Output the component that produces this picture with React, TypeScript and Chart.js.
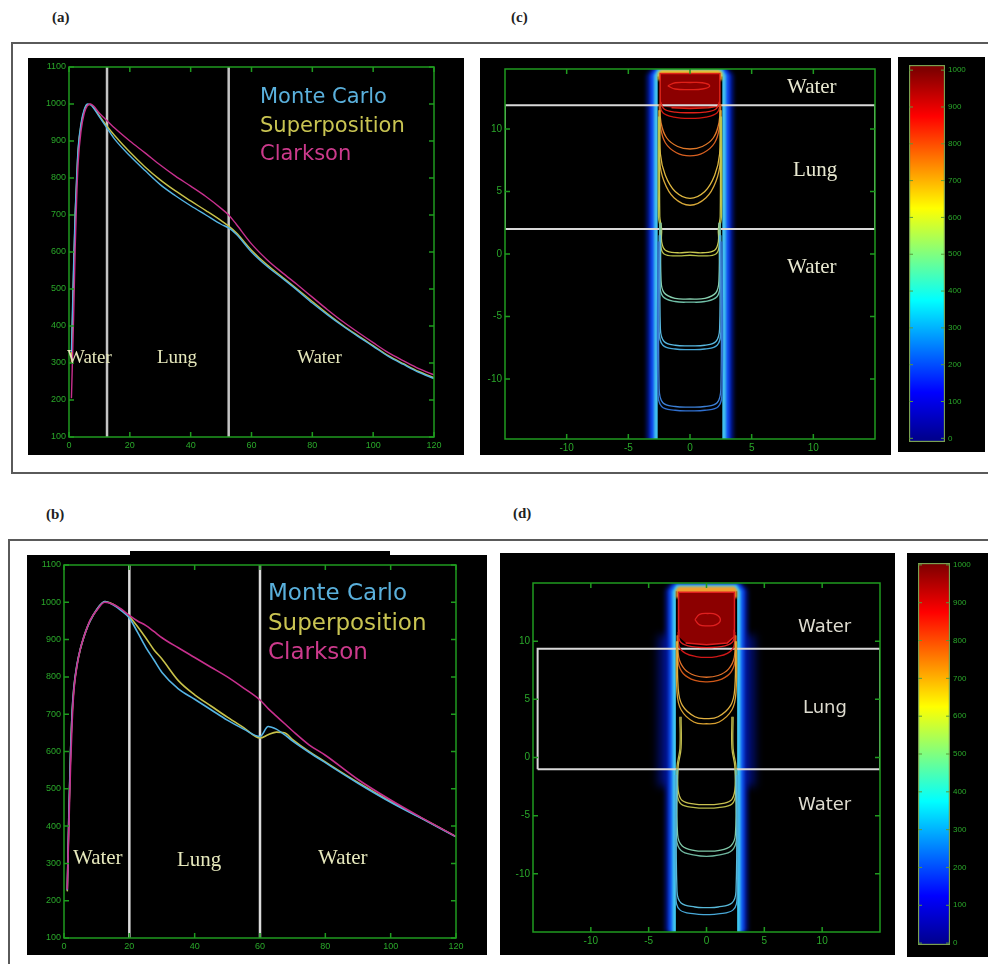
import React, { useEffect, useRef } from 'react';
import { Chart, registerables } from 'chart.js';

// ---------- plugins ----------
const blurPlugin = {
  id: 'blurGlow',
  beforeDatasetDraw(chart: any, args: any) {
    const ds: any = chart.data.datasets[args.index];
    if (ds && ds.blur) { chart.ctx.save(); chart.ctx.filter = `blur(${ds.blur}px)`; }
  },
  afterDatasetDraw(chart: any, args: any) {
    const ds: any = chart.data.datasets[args.index];
    if (ds && ds.blur) chart.ctx.restore();
  },
};
const framePlugin = {
  id: 'frameBox',
  afterDatasetsDraw(chart: any, _a: any, opts: any) {
    if (!opts || !opts.color) return;
    const { ctx, chartArea: a } = chart;
    ctx.save();
    ctx.strokeStyle = opts.color;
    ctx.lineWidth = opts.width || 1.5;
    if (!opts.noBox) ctx.strokeRect(a.left, a.top, a.right - a.left, a.bottom - a.top);
    const L = opts.len || 4;
    ctx.beginPath();
    Object.values(chart.scales).forEach((s: any) => {
      if (s.options.display === false) return;
      s.ticks.forEach((t: any) => {
        const p = s.getPixelForValue(t.value);
        if (s.isHorizontal()) {
          ctx.moveTo(p, a.bottom); ctx.lineTo(p, a.bottom - L);
          ctx.moveTo(p, a.top); ctx.lineTo(p, a.top + L);
        } else {
          ctx.moveTo(a.left, p); ctx.lineTo(a.left + L, p);
          ctx.moveTo(a.right, p); ctx.lineTo(a.right - L, p);
        }
      });
    });
    ctx.stroke();
    ctx.restore();
  },
};
Chart.register(blurPlugin as any, framePlugin as any);
Chart.register(...registerables);

// ---------- data: depth-dose (a) ----------
const depthA = [0.8, 1.5, 2, 2.5, 3, 4, 5, 6, 7, 8, 10, 12.5, 15, 20, 25, 30, 35, 40, 45, 50, 52.5, 55, 60, 65, 70, 75, 80, 85, 90, 95, 100, 105, 110, 115, 120];
const monteCarloA = [330, 560, 700, 800, 880, 950, 985, 1000, 998, 990, 965, 935, 905, 860, 820, 782, 752, 725, 700, 675, 665, 648, 600, 562, 530, 497, 462, 430, 400, 372, 345, 318, 296, 275, 258];
const superpositionA = [300, 540, 690, 790, 875, 945, 982, 998, 999, 992, 968, 940, 915, 870, 830, 795, 765, 738, 712, 685, 670, 652, 605, 566, 533, 500, 466, 433, 402, 374, 347, 320, 298, 277, 260];
const clarksonA = [205, 420, 600, 740, 840, 930, 975, 995, 1000, 995, 975, 955, 935, 900, 868, 835, 805, 778, 750, 718, 700, 675, 622, 580, 545, 512, 478, 444, 412, 383, 355, 328, 306, 285, 268];
const boundariesA = [12.5, 52.5];

// ---------- data: depth-dose (b) ----------
const depthB = [1, 1.5, 2, 2.5, 3, 4, 5, 6, 7, 8, 10, 12.5, 15, 17.5, 20, 22.5, 25, 27.5, 30, 35, 40, 45, 50, 55, 60, 62.5, 65, 67.5, 70, 75, 80, 90, 100, 110, 120];
const monteCarloB = [228, 440, 600, 710, 770, 835, 875, 905, 930, 950, 980, 1002, 993, 978, 958, 920, 880, 846, 812, 768, 740, 712, 684, 660, 640, 667, 660, 645, 628, 598, 570, 515, 464, 418, 371];
const superpositionB = [225, 430, 595, 705, 768, 833, 874, 905, 930, 950, 980, 1002, 995, 980, 962, 935, 905, 873, 848, 790, 752, 722, 692, 664, 636, 645, 652, 650, 632, 600, 572, 517, 466, 419, 372];
const clarksonB = [230, 400, 560, 680, 760, 830, 875, 905, 930, 952, 978, 1000, 995, 982, 965, 950, 938, 922, 905, 878, 852, 826, 800, 770, 738, 715, 695, 675, 655, 618, 590, 525, 470, 420, 372];
const boundariesB = [20, 60];

const depthRange = [0, 120];
const depthTicks = [0, 20, 40, 60, 80, 100, 120];
const doseRange = [100, 1100];
const doseTicks = [100, 200, 300, 400, 500, 600, 700, 800, 900, 1000, 1100];

// ---------- data: contour map (c) ----------
const lungC = [2, 11.9];
const glowC1 = [[-3.5, -15], [-3.5, 14.3], [-3.0, 14.95], [3.0, 14.95], [3.5, 14.3], [3.5, -15]];
const glowC2 = [[-3.2, -15], [-3.2, 14.3], [-2.8, 14.88], [2.8, 14.88], [3.2, 14.3], [3.2, -15]];
const glowC3 = [[-2.92, -15], [-2.92, 14.3], [-2.6, 14.82], [2.6, 14.82], [2.92, 14.3], [2.92, -15]];
const coreC = [[-2.62, -15], [-2.62, 14.2], [2.62, 14.2], [2.62, -15]];
const topC = [[-2.62, 13.9], [-2.62, 14.5], [-2.35, 14.75], [2.35, 14.75], [2.62, 14.5], [2.62, 13.9]];
const redC = [[-2.42, 11.85], [-2.42, 14.45], [2.42, 14.45], [2.42, 11.85], [1.5, 11.7], [0, 11.65], [-1.5, 11.7]];
const cRedLoop = [[-1.8, 13.45], [-1.2, 13.7], [0, 13.72], [1.0, 13.7], [1.6, 13.45], [1.0, 13.2], [0, 13.15], [-1.2, 13.2], [-1.8, 13.45]];
const cRed1 = [[-2.4, 12.2], [-2.1, 11.6], [-1.2, 11.35], [0, 11.3], [1.2, 11.35], [2.1, 11.6], [2.4, 12.2]];
const cRed2 = [[-2.45, 12.0], [-2.2, 11.3], [-1.3, 10.95], [0, 10.85], [1.3, 10.95], [2.2, 11.3], [2.45, 12.0]];
const cOrange1 = [[-2.45, 12.0], [-2.35, 10.5], [-1.9, 9.3], [-1.0, 8.6], [0, 8.4], [1.0, 8.6], [1.9, 9.3], [2.35, 10.5], [2.45, 12.0]];
const cOrange2 = [[-2.5, 12.0], [-2.4, 10.2], [-2.0, 8.9], [-1.1, 8.1], [0, 7.85], [1.1, 8.1], [2.0, 8.9], [2.4, 10.2], [2.5, 12.0]];
const cYellow1 = [[-2.45, 11.5], [-2.4, 8.0], [-2.0, 6.3], [-1.2, 5.0], [0, 4.45], [1.2, 5.0], [2.0, 6.3], [2.4, 8.0], [2.45, 11.5]];
const cYellow2 = [[-2.52, 11.5], [-2.47, 7.5], [-2.1, 5.8], [-1.3, 4.5], [0, 3.9], [1.3, 4.5], [2.1, 5.8], [2.47, 7.5], [2.52, 11.5]];
const cOlive1 = [[-2.45, 11.0], [-2.45, 3.0], [-2.3, 2.0], [-2.3, 1.0], [-2.0, 0.3], [-1.0, 0.1], [0, 0.15], [1.0, 0.1], [2.0, 0.3], [2.3, 1.0], [2.3, 2.0], [2.45, 3.0], [2.45, 11.0]];
const cOlive2 = [[-2.55, 11.0], [-2.55, 3.0], [-2.4, 2.0], [-2.4, 0.8], [-2.1, 0.0], [-1.0, -0.15], [0, -0.1], [1.0, -0.15], [2.1, 0.0], [2.4, 0.8], [2.4, 2.0], [2.55, 3.0], [2.55, 11.0]];
const cGreen1 = [[-2.35, 2.5], [-2.35, -2.0], [-2.1, -3.1], [-1.2, -3.55], [0, -3.6], [1.2, -3.55], [2.1, -3.1], [2.35, -2.0], [2.35, 2.5]];
const cGreen2 = [[-2.45, 2.5], [-2.45, -2.2], [-2.2, -3.4], [-1.2, -3.8], [0, -3.85], [1.2, -3.8], [2.2, -3.4], [2.45, -2.2], [2.45, 2.5]];
const cCyan1 = [[-2.4, 1.5], [-2.4, -6.0], [-2.1, -7.0], [-1.2, -7.3], [0, -7.35], [1.2, -7.3], [2.1, -7.0], [2.4, -6.0], [2.4, 1.5]];
const cCyan2 = [[-2.5, 1.5], [-2.5, -6.2], [-2.2, -7.3], [-1.2, -7.6], [0, -7.65], [1.2, -7.6], [2.2, -7.3], [2.5, -6.2], [2.5, 1.5]];
const cBlue1 = [[-2.5, 1.0], [-2.5, -10.8], [-2.2, -11.9], [-1.2, -12.2], [0, -12.25], [1.2, -12.2], [2.2, -11.9], [2.5, -10.8], [2.5, 1.0]];
const cBlue2 = [[-2.6, 1.0], [-2.6, -11.0], [-2.3, -12.2], [-1.2, -12.5], [0, -12.55], [1.2, -12.5], [2.3, -12.2], [2.6, -11.0], [2.6, 1.0]];

// ---------- data: contour map (d) ----------
const lungD = [-1.0, 9.35];
const lungXD = [-14.6, 15];
const glowD0 = [[-4.2, -2.5], [-4.2, 10.5], [4.2, 10.5], [4.2, -2.5]];
const glowD1 = [[-3.55, -15], [-3.55, 14.4], [-3.05, 15], [3.05, 15], [3.55, 14.4], [3.55, -15]];
const glowD2 = [[-3.25, -15], [-3.25, 14.35], [-2.85, 14.92], [2.85, 14.92], [3.25, 14.35], [3.25, -15]];
const glowD3 = [[-2.95, -15], [-2.95, 14.3], [-2.6, 14.85], [2.6, 14.85], [2.95, 14.3], [2.95, -15]];
const coreD = [[-2.65, -15], [-2.65, 14.3], [2.65, 14.3], [2.65, -15]];
const topD = [[-2.65, 13.7], [-2.65, 14.45], [-2.4, 14.7], [2.4, 14.7], [2.65, 14.45], [2.65, 13.7]];
const redD = [[-2.42, 10.4], [-2.42, 14.2], [2.42, 14.2], [2.42, 10.4], [1.8, 9.85], [0, 9.7], [-1.8, 9.85]];
const dRedLoop = [[-1.0, 11.85], [-0.6, 12.3], [0.1, 12.38], [0.8, 12.3], [1.2, 11.85], [0.8, 11.4], [0.1, 11.32], [-0.6, 11.4], [-1.0, 11.85]];
const dRed1 = [[-2.4, 11.0], [-2.3, 10.0], [-1.6, 9.6], [0, 9.45], [1.6, 9.6], [2.3, 10.0], [2.4, 11.0]];
const dRed2 = [[-2.45, 10.8], [-2.35, 9.5], [-1.8, 8.95], [-0.9, 8.68], [0, 8.6], [0.9, 8.68], [1.8, 8.95], [2.35, 9.5], [2.45, 10.8]];
const dOrange1 = [[-2.5, 10.5], [-2.4, 8.6], [-1.9, 7.6], [-1.0, 7.05], [0, 6.9], [1.0, 7.05], [1.9, 7.6], [2.4, 8.6], [2.5, 10.5]];
const dOrange2 = [[-2.55, 10.5], [-2.45, 8.2], [-2.0, 7.2], [-1.0, 6.62], [0, 6.5], [1.0, 6.62], [2.0, 7.2], [2.45, 8.2], [2.55, 10.5]];
const dYellow1 = [[-2.5, 10.0], [-2.45, 6.0], [-2.1, 4.5], [-1.0, 3.5], [0, 3.35], [1.0, 3.5], [2.1, 4.5], [2.45, 6.0], [2.5, 10.0]];
const dYellow2 = [[-2.6, 10.0], [-2.55, 5.6], [-2.2, 4.1], [-1.1, 3.05], [0, 2.9], [1.1, 3.05], [2.2, 4.1], [2.55, 5.6], [2.6, 10.0]];
const dOlive1 = [[-2.2, 3.5], [-2.2, 0.8], [-2.45, -0.8], [-2.45, -2.8], [-2.1, -3.7], [-1.0, -4.0], [0, -4.05], [1.0, -4.0], [2.1, -3.7], [2.45, -2.8], [2.45, -0.8], [2.2, 0.8], [2.2, 3.5]];
const dOlive2 = [[-2.3, 3.5], [-2.3, 0.8], [-2.55, -0.8], [-2.55, -3.0], [-2.2, -4.0], [-1.0, -4.3], [0, -4.35], [1.0, -4.3], [2.2, -4.0], [2.55, -3.0], [2.55, -0.8], [2.3, 0.8], [2.3, 3.5]];
const dGreen1 = [[-2.5, -1.0], [-2.5, -6.6], [-2.1, -7.6], [-1.0, -8.0], [0, -8.05], [1.0, -8.0], [2.1, -7.6], [2.5, -6.6], [2.5, -1.0]];
const dGreen2 = [[-2.6, -1.0], [-2.6, -6.9], [-2.2, -8.0], [-1.0, -8.4], [0, -8.5], [1.0, -8.4], [2.2, -8.0], [2.6, -6.9], [2.6, -1.0]];
const dCyan1 = [[-2.6, -1.5], [-2.55, -11.5], [-2.2, -12.5], [-1.0, -12.85], [0, -12.9], [1.0, -12.85], [2.2, -12.5], [2.55, -11.5], [2.6, -1.5]];
const dCyan2 = [[-2.7, -1.5], [-2.65, -11.9], [-2.3, -13.1], [-1.0, -13.45], [0, -13.5], [1.0, -13.45], [2.3, -13.1], [2.65, -11.9], [2.7, -1.5]];

const mapXRange = [-15, 15];
const mapYRangeC = [-14.8, 14.8];
const mapYRangeD = [-15, 15];
const mapTicks = [-10, -5, 0, 5, 10];

// ---------- colour bars ----------
const colorbarRangeC = [-10, 1014];
const colorbarRangeD = [-5, 1005];
const doseScale = [0, 1000];
const colorbarTicks = [0, 100, 200, 300, 400, 500, 600, 700, 800, 900, 1000];
const jetStops: [number, string][] = [[0, '#00008f'], [0.125, '#0000ff'], [0.375, '#00ffff'], [0.625, '#ffff00'], [0.875, '#ff0000'], [1, '#800000']];

// ---------- styles ----------
const TICK_GREEN = '#2aa82a';
const AXIS_GREEN = '#1f9a1f';
const MC_COLOR = '#55b4e4';
const SP_COLOR = '#c8c24a';
const CL_COLOR = '#c8308e';

const xy = (pts: number[][]) => pts.map(([x, y]) => ({ x, y }));

function axis(range: number[], tickValues: number[], position: string, fit: number, size: number) {
  return {
    type: 'linear', position, min: range[0], max: range[1],
    grid: { display: false, drawTicks: false },
    border: { display: false },
    ticks: {
      autoSkip: false, maxRotation: 0,
      color: TICK_GREEN, font: { size, family: 'Liberation Sans' }, padding: 3,
      callback: (v: any) => String(v),
    },
    afterBuildTicks: (s: any) => { s.ticks = tickValues.map((value) => ({ value })); },
    afterFit: (s: any) => { if (s.isHorizontal()) s.height = fit; else s.width = fit; },
  };
}

function ordered(datasets: any[]) {
  return datasets.map((d, i) => ({ ...d, order: -i }));
}

function curve(xs: number[], ys: number[], color: string, width: number) {
  return {
    data: xs.map((x, i) => ({ x, y: ys[i] })), showLine: true, pointRadius: 0,
    borderColor: color, borderWidth: width, cubicInterpolationMode: 'monotone', fill: false,
  };
}

function depthConfig(depth: number[], mc: number[], sp: number[], cl: number[], bounds: number[], pad: any, yFit: number, xFit: number, lw: number, boundColor: string) {
  const datasets = [
    ...bounds.map((b) => ({
      data: [{ x: b, y: doseRange[0] }, { x: b, y: doseRange[1] }], showLine: true, pointRadius: 0,
      borderColor: boundColor, borderWidth: 2.5, fill: false,
    })),
    curve(depth, sp, SP_COLOR, lw),
    curve(depth, mc, MC_COLOR, lw),
    curve(depth, cl, CL_COLOR, lw),
  ];
  return {
    type: 'scatter',
    data: { datasets: ordered(datasets) },
    options: {
      responsive: false, animation: false, events: [],
      layout: { padding: pad },
      plugins: { legend: { display: false }, tooltip: { enabled: false }, frameBox: { color: AXIS_GREEN, len: 5, width: 1.5 } },
      scales: {
        x: axis(depthRange, depthTicks, 'bottom', xFit, 9),
        y: axis(doseRange, doseTicks, 'left', yFit, 9),
      },
    },
  };
}

function shape(pts: number[][], color: string, blur = 0, border = '') {
  return {
    data: xy(pts), showLine: true, pointRadius: 0, tension: 0,
    backgroundColor: color, borderColor: border || 'transparent', borderWidth: border ? 1.5 : 1,
    fill: 'shape', blur,
  };
}
function contour(pts: number[][], color: string) {
  return { data: xy(pts), showLine: true, pointRadius: 0, tension: 0.4, borderColor: color, borderWidth: 1.3, fill: false };
}
function rectLine(xr: number[], yr: number[]) {
  return {
    data: xy([[xr[0], yr[0]], [xr[1], yr[0]], [xr[1], yr[1]], [xr[0], yr[1]], [xr[0], yr[0]]]),
    showLine: true, pointRadius: 0, tension: 0, borderColor: '#d8d8d8', borderWidth: 2, fill: false,
  };
}

function mapConfig(datasets: any[], yRange: number[], pad: any, yFit: number, xFit: number) {
  return {
    type: 'scatter',
    data: { datasets: ordered(datasets) },
    options: {
      responsive: false, animation: false, events: [],
      layout: { padding: pad },
      plugins: { legend: { display: false }, tooltip: { enabled: false }, frameBox: { color: AXIS_GREEN, len: 5, width: 1.5 } },
      scales: {
        x: axis(mapXRange, mapTicks, 'bottom', xFit, 10),
        y: axis(yRange, mapTicks, 'left', yFit, 10),
      },
    },
  };
}

function configC() {
  return mapConfig([
    shape(glowC1, '#0018a0', 2),
    shape(glowC2, '#1050f0', 1.5),
    shape(glowC3, '#40c0f0', 1),
    shape(coreC, '#000000'),
    shape(topC, '#e8c030', 1),
    shape(redC, '#8c0000', 0, '#e02418'),
    rectLine(mapXRange, lungC),
    contour(cRedLoop, '#e02018'), contour(cRed1, '#e02018'), contour(cRed2, '#d01810'),
    contour(cOrange1, '#e07828'), contour(cOrange2, '#d86020'),
    contour(cYellow1, '#e0b840'), contour(cYellow2, '#d8a838'),
    contour(cOlive1, '#c8c850'), contour(cOlive2, '#b8c048'),
    contour(cGreen1, '#88d0b0'), contour(cGreen2, '#70c0a8'),
    contour(cCyan1, '#58b8e0'), contour(cCyan2, '#48a8d8'),
    contour(cBlue1, '#3c80d8'), contour(cBlue2, '#3070d0'),
  ], mapYRangeC, { left: 0, right: 16, top: 11, bottom: 0 }, 25, 16);
}

function configD() {
  return mapConfig([
    shape(glowD0, 'rgba(0,18,140,0.8)', 4),
    shape(glowD1, '#0018a0', 2),
    shape(glowD2, '#1058f0', 1.5),
    shape(glowD3, '#40c8f0', 1),
    shape(coreD, '#000000'),
    shape(topD, '#f0a030', 1),
    shape(redD, '#8c0000', 0, '#e02020'),
    rectLine(lungXD, lungD),
    contour(dRedLoop, '#e02020'), contour(dRed1, '#e02020'), contour(dRed2, '#d01818'),
    contour(dOrange1, '#e07028'), contour(dOrange2, '#d05818'),
    contour(dYellow1, '#e0b040'), contour(dYellow2, '#d8a030'),
    contour(dOlive1, '#c8c050'), contour(dOlive2, '#b8b848'),
    contour(dGreen1, '#80c8a8'), contour(dGreen2, '#70b8a0'),
    contour(dCyan1, '#58b8d8'), contour(dCyan2, '#48a8d8'),
  ], mapYRangeD, { left: 0, right: 15, top: 30, bottom: 0 }, 33, 23);
}

function colorbarConfig(range: number[], pad: any, yFit: number) {
  return {
    type: 'bar',
    data: {
      labels: [''],
      datasets: [{
        data: [[range[0], range[1]]],
        backgroundColor: (c: any) => {
          const chart = c.chart;
          const ys = chart.scales && chart.scales.y;
          if (!chart.chartArea || !ys) return '#0000ff';
          const g = chart.ctx.createLinearGradient(0, ys.getPixelForValue(doseScale[0]), 0, ys.getPixelForValue(doseScale[1]));
          jetStops.forEach(([o, col]) => g.addColorStop(o, col));
          return g;
        },
        borderColor: '#7aa050', borderWidth: 1.5, borderSkipped: false,
        barPercentage: 1, categoryPercentage: 1,
      }],
    },
    options: {
      responsive: false, animation: false, events: [],
      layout: { padding: pad },
      plugins: { legend: { display: false }, tooltip: { enabled: false }, frameBox: { color: '#5a9a3a', len: 4, width: 1, noBox: true } },
      scales: {
        x: { display: false },
        y: axis(range, colorbarTicks, 'right', yFit, 8),
      },
    },
  };
}

function ChartCanvas({ left, top, width, height, make }: any) {
  const ref = useRef<HTMLCanvasElement>(null);
  useEffect(() => {
    const chart = new Chart(ref.current as HTMLCanvasElement, make());
    return () => chart.destroy();
  }, []);
  return (
    <canvas ref={ref} width={width} height={height}
      style={{ position: 'absolute', left, top, width, height, background: '#000', display: 'block' }} />
  );
}

function Txt({ left, top, size, color, family, children, weight = 'normal' }: any) {
  return (
    <div style={{ position: 'absolute', left, top, fontSize: size, lineHeight: `${size + 2}px`, color, fontFamily: family, fontWeight: weight, whiteSpace: 'nowrap' }}>
      {children}
    </div>
  );
}

const SERIF = "'Liberation Serif', 'Times New Roman', serif";
const SANS = "'DejaVu Sans', sans-serif";
const REGION = '#e6e8bc';

export default function App() {
  return (
    <div style={{ position: 'absolute', left: 0, top: 0, width: 988, height: 964, overflow: 'hidden', background: '#fff' }}>
      <div style={{ position: 'absolute', left: 11, top: 42, width: 1000, height: 432, boxSizing: 'border-box', border: '2px solid #5a5a5a' }} />
      <div style={{ position: 'absolute', left: 8, top: 539, width: 1000, height: 440, boxSizing: 'border-box', border: '2px solid #5a5a5a' }} />

      <Txt left={52} top={9} size={15} color="#222" family={SERIF} weight="bold">(a)</Txt>
      <Txt left={511} top={9} size={15} color="#222" family={SERIF} weight="bold">(c)</Txt>
      <Txt left={46} top={506} size={15} color="#222" family={SERIF} weight="bold">(b)</Txt>
      <Txt left={513} top={505} size={15} color="#222" family={SERIF} weight="bold">(d)</Txt>

      <ChartCanvas left={28} top={58} width={436} height={397}
        make={() => depthConfig(depthA, monteCarloA, superpositionA, clarksonA, boundariesA, { left: 0, right: 30, top: 9, bottom: 0 }, 41, 18, 1.4, '#c4c4c4')} />
      <div style={{ position: 'absolute', left: 130, top: 551, width: 260, height: 6, background: '#000' }} />
      <ChartCanvas left={27} top={555} width={460} height={400}
        make={() => depthConfig(depthB, monteCarloB, superpositionB, clarksonB, boundariesB, { left: 0, right: 31, top: 10, bottom: 0 }, 37, 17, 1.6, '#dcdcdc')} />
      <ChartCanvas left={480} top={58} width={411} height={397} make={configC} />
      <ChartCanvas left={500} top={553} width={395} height={402} make={configD} />
      <ChartCanvas left={898} top={57} width={87} height={395}
        make={() => colorbarConfig(colorbarRangeC, { left: 11, right: 0, top: 8, bottom: 10 }, 40)} />
      <ChartCanvas left={907} top={553} width={81} height={404}
        make={() => colorbarConfig(colorbarRangeD, { left: 11, right: 0, top: 10, bottom: 12 }, 38)} />

      {/* legends */}
      <Txt left={260} top={85} size={21} color="#5ab0dc" family={SANS}>Monte Carlo</Txt>
      <Txt left={260} top={114} size={21} color="#c9c452" family={SANS}>Superposition</Txt>
      <Txt left={260} top={142} size={21} color="#cc3a8c" family={SANS}>Clarkson</Txt>
      <Txt left={268} top={580} size={23} color="#5ab0dc" family={SANS}>Monte Carlo</Txt>
      <Txt left={268} top={610} size={23} color="#c9c452" family={SANS}>Superposition</Txt>
      <Txt left={268} top={639} size={23} color="#cc3a8c" family={SANS}>Clarkson</Txt>

      {/* region labels */}
      <Txt left={67} top={346} size={19} color={REGION} family={SERIF}>Water</Txt>
      <Txt left={157} top={346} size={19} color={REGION} family={SERIF}>Lung</Txt>
      <Txt left={297} top={346} size={19} color={REGION} family={SERIF}>Water</Txt>
      <Txt left={73} top={846} size={21} color={REGION} family={SERIF}>Water</Txt>
      <Txt left={177} top={848} size={21} color={REGION} family={SERIF}>Lung</Txt>
      <Txt left={318} top={846} size={21} color={REGION} family={SERIF}>Water</Txt>

      <Txt left={787} top={75} size={21} color="#e8e8d0" family={SERIF}>Water</Txt>
      <Txt left={793} top={158} size={21} color="#e8e8d0" family={SERIF}>Lung</Txt>
      <Txt left={787} top={255} size={21} color="#e8e8d0" family={SERIF}>Water</Txt>
      <Txt left={798} top={616} size={18} color="#dedcd0" family={SANS}>Water</Txt>
      <Txt left={803} top={697} size={18} color="#dedcd0" family={SANS}>Lung</Txt>
      <Txt left={798} top={794} size={18} color="#dedcd0" family={SANS}>Water</Txt>
    </div>
  );
}
